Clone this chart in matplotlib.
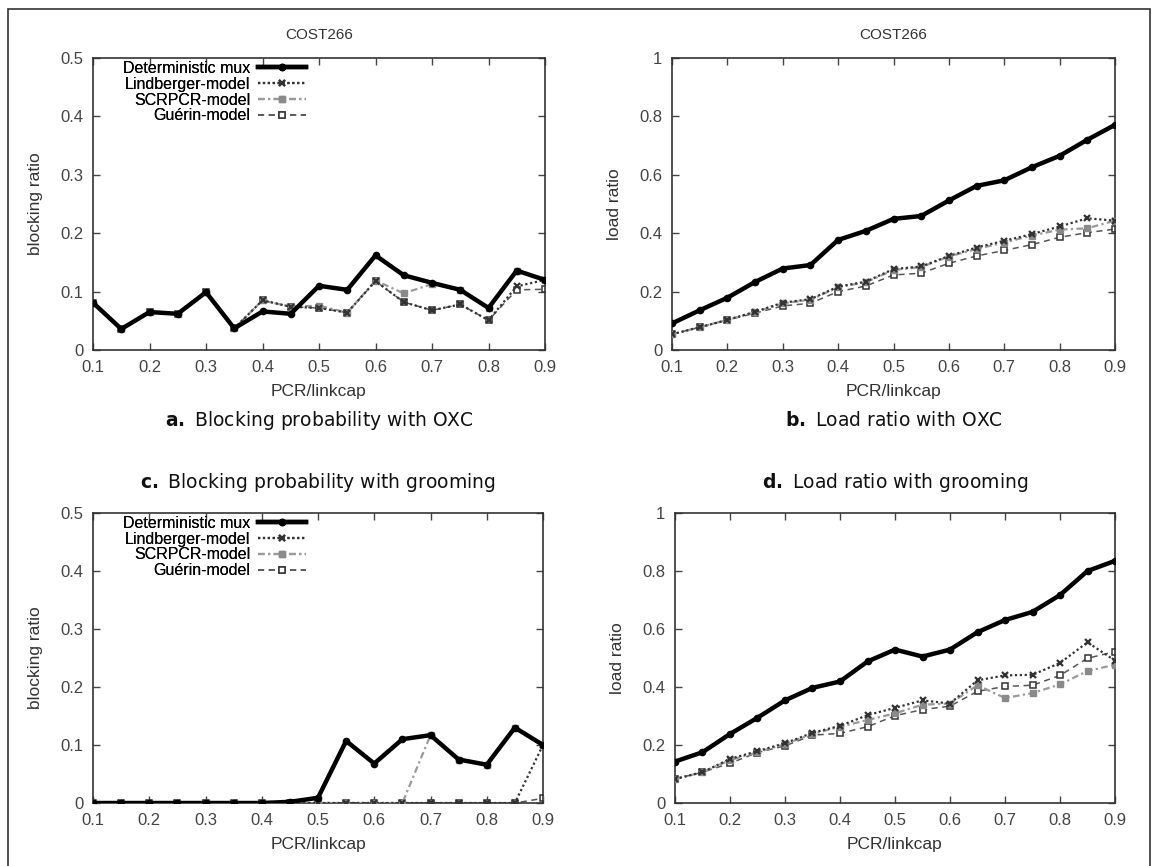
import matplotlib
matplotlib.use("Agg")
import matplotlib.pyplot as plt
from matplotlib.patches import Rectangle

plt.rcParams['font.family'] = ['Liberation Sans', 'DejaVu Sans']

W, H = 1154, 866

pcr = [0.1, 0.15, 0.2, 0.25, 0.3, 0.35, 0.4, 0.45, 0.5,
       0.55, 0.6, 0.65, 0.7, 0.75, 0.8, 0.85, 0.9]
names = ['Deterministic mux', 'Lindberger-model', 'SCRPCR-model', 'Guérin-model']

# a. blocking ratio, OXC
a_det = [0.081, 0.036, 0.065, 0.062, 0.099, 0.037, 0.066, 0.062, 0.110,
         0.103, 0.162, 0.128, 0.115, 0.103, 0.072, 0.136, 0.120]
a_lind = [0.081, 0.036, 0.065, 0.062, 0.099, 0.037, 0.085, 0.074, 0.072,
          0.064, 0.118, 0.082, 0.068, 0.078, 0.051, 0.109, 0.120]
a_scr = [0.081, 0.036, 0.065, 0.062, 0.099, 0.037, 0.085, 0.074, 0.076,
         0.064, 0.119, 0.097, 0.113, 0.103, 0.072, 0.136, 0.120]
a_gue = [0.081, 0.036, 0.065, 0.062, 0.099, 0.037, 0.085, 0.074, 0.072,
         0.064, 0.118, 0.082, 0.068, 0.078, 0.051, 0.103, 0.104]

# b. load ratio, OXC
b_det = [0.091, 0.136, 0.179, 0.233, 0.279, 0.291, 0.377, 0.408, 0.449,
         0.459, 0.512, 0.562, 0.581, 0.626, 0.665, 0.720, 0.771]
b_lind = [0.054, 0.078, 0.103, 0.131, 0.162, 0.174, 0.217, 0.234, 0.277,
          0.286, 0.322, 0.351, 0.374, 0.397, 0.423, 0.451, 0.443]
b_scr = [0.054, 0.078, 0.103, 0.129, 0.160, 0.172, 0.215, 0.232, 0.274,
         0.284, 0.320, 0.346, 0.368, 0.392, 0.412, 0.417, 0.443]
b_gue = [0.054, 0.078, 0.103, 0.126, 0.151, 0.160, 0.200, 0.219, 0.257,
         0.263, 0.297, 0.322, 0.341, 0.361, 0.386, 0.402, 0.414]

# c. blocking ratio, grooming
c_det = [0, 0, 0, 0, 0, 0, 0, 0.002, 0.009,
         0.107, 0.068, 0.110, 0.117, 0.075, 0.066, 0.130, 0.100]
c_lind = [0, 0, 0, 0, 0, 0, 0, 0, 0,
          0, 0, 0, 0, 0, 0, 0, 0.100]
c_scr = [0, 0, 0, 0, 0, 0, 0, 0, 0,
         0, 0, 0, 0.117, 0.075, 0.066, 0.130, 0.100]
c_gue = [0, 0, 0, 0, 0, 0, 0, 0, 0,
         0, 0, 0, 0, 0, 0, 0, 0.008]

# d. load ratio, grooming
d_det = [0.143, 0.175, 0.238, 0.294, 0.354, 0.397, 0.419, 0.488, 0.529,
         0.505, 0.529, 0.589, 0.631, 0.659, 0.717, 0.800, 0.835]
d_lind = [0.083, 0.106, 0.152, 0.179, 0.206, 0.242, 0.266, 0.303, 0.328,
          0.354, 0.343, 0.423, 0.440, 0.442, 0.483, 0.554, 0.491]
d_scr = [0.083, 0.106, 0.148, 0.175, 0.203, 0.238, 0.263, 0.286, 0.309,
         0.339, 0.343, 0.406, 0.362, 0.379, 0.409, 0.455, 0.477]
d_gue = [0.083, 0.106, 0.137, 0.174, 0.197, 0.234, 0.240, 0.263, 0.301,
         0.322, 0.334, 0.385, 0.402, 0.406, 0.440, 0.499, 0.522]

panels = [
    dict(box=(93, 58, 545, 350), ys=[a_det, a_lind, a_scr, a_gue], ymax=0.5,
         ylabel='blocking ratio', title='COST266',
         cap=r'$\mathbf{a.}$ Blocking probability with OXC', capy=421),
    dict(box=(672, 58, 1115, 350), ys=[b_det, b_lind, b_scr, b_gue], ymax=1.0,
         ylabel='load ratio', title='COST266',
         cap=r'$\mathbf{b.}$ Load ratio with OXC', capy=421),
    dict(box=(93, 513, 543, 803), ys=[c_det, c_lind, c_scr, c_gue], ymax=0.5,
         ylabel='blocking ratio', title=None,
         cap=r'$\mathbf{c.}$ Blocking probability with grooming', capy=482),
    dict(box=(675, 513, 1115, 803), ys=[d_det, d_lind, d_scr, d_gue], ymax=1.0,
         ylabel='load ratio', title=None,
         cap=r'$\mathbf{d.}$ Load ratio with grooming', capy=482),
]

styles = [
    dict(color='black', lw=3.2, ls='-', marker='o', ms=4.5, mfc='black', mec='black', zorder=5),
    dict(color='#333333', lw=1.6, ls=(0, (1, 1.2)), marker='x', ms=5, mew=1.6, mec='#333333', zorder=4),
    dict(color='#9a9a9a', lw=1.6, ls=(0, (3, 1.5, 1, 1.5)), marker='s', ms=4.5, mfc='#8a8a8a', mec='#8a8a8a', zorder=3),
    dict(color='#555555', lw=1.1, ls=(0, (4, 3)), marker='s', ms=5, mfc='white', mec='#333333', mew=1.1, zorder=2),
]

fig = plt.figure(figsize=(W / 100, H / 100), dpi=100)

for p in panels:
    x0, y0, x1, y1 = p['box']
    ax = fig.add_axes([x0 / W, 1 - y1 / H, (x1 - x0) / W, (y1 - y0) / H])
    for ys, st, name in zip(p['ys'], styles, names):
        ax.plot(pcr, ys, label=name, **st)
    ax.set_xlim(0.1, 0.9)
    ax.set_ylim(0, p['ymax'])
    ax.set_xticks(pcr[::2])
    ax.set_xticklabels(['%g' % v for v in pcr[::2]])
    if p['ymax'] == 0.5:
        yt = [0, 0.1, 0.2, 0.3, 0.4, 0.5]
    else:
        yt = [0, 0.2, 0.4, 0.6, 0.8, 1.0]
    ax.set_yticks(yt)
    ax.set_yticklabels(['%g' % v for v in yt])
    ax.tick_params(direction='in', length=5, width=1, top=True, right=True,
                   labelsize=12, labelcolor='#444444', color='#444444', pad=7)
    for s in ax.spines.values():
        s.set_color('#333333')
        s.set_linewidth(1.2)
    ax.set_xlabel('PCR/linkcap', fontsize=12.5, color='#333333', labelpad=7)
    ax.set_ylabel(p['ylabel'], fontsize=12.5, color='#333333', labelpad=12)
    if p['title']:
        ax.set_title(p['title'], fontsize=11, color='#333333', pad=14)
    ax.legend(loc='upper left', bbox_to_anchor=((127 - x0 - 4) / (x1 - x0), 0.99),
              frameon=False, markerfirst=False, fontsize=11.5, handlelength=3.0,
              handletextpad=0.5, labelspacing=0.05, borderpad=0, borderaxespad=0)
    fig.text((x0 + x1) / 2 / W, 1 - p['capy'] / H, p['cap'], ha='center', va='center',
             fontsize=13.5, family='DejaVu Sans', color='#111111')

fig.add_artist(Rectangle((8 / W, -0.01), (1150 - 8) / W, 1 - 9 / H + 0.01,
                         transform=fig.transFigure, fill=False, ec='#333333', lw=1.2))

fig.savefig('out.png', dpi=100)
